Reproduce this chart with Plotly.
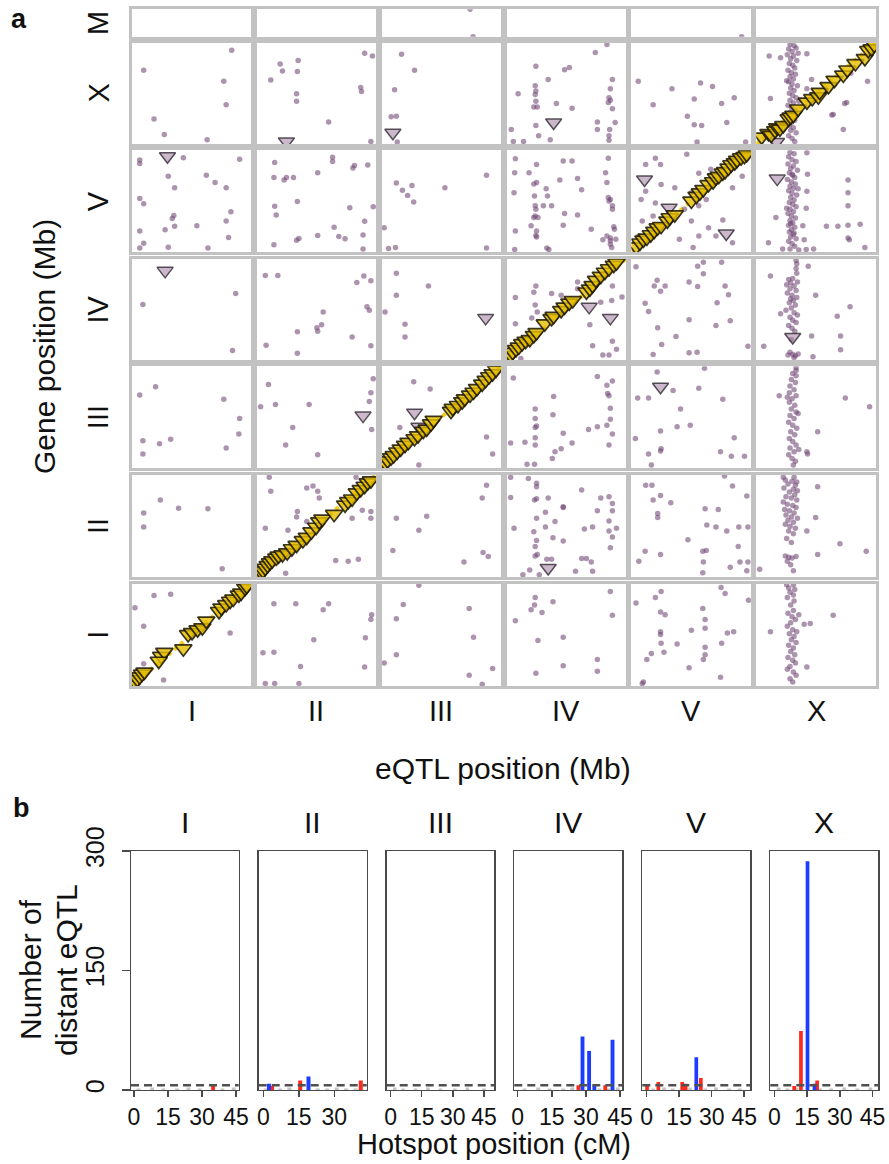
import plotly.graph_objects as go

W, H = 889, 1164
FONT = "Liberation Sans, Arial, Helvetica, sans-serif"

# ---------------- data ----------------
CHROMS = ["I", "II", "III", "IV", "V", "X"]            # eQTL chromosome (columns)
GENE_ROWS = ["M", "X", "V", "IV", "III", "II", "I"]    # gene chromosome (rows, top to bottom)
CHROM_MB = {"I": 15.07, "II": 15.28, "III": 13.78, "IV": 17.49, "V": 20.92, "X": 17.72, "M": 0.0137}

# distant eQTL (eQTL Mb, gene Mb) per panel: D_<gene chr>_<eQTL chr>
D_M_III = [(10.2, 0.0137), (10.55, 0.0)]
D_M_V = [(19.3, 0.0)]

D_X_I = [(12.6, 16.4), (1.5, 12.9), (11.6, 11.0), (11.9, 6.9), (2.8, 4.4), (4.1, 1.7), (9.5, 0.8)]
D_X_II = [(3.0, 14.0), (5.3, 14.6), (3.3, 12.8), (5.2, 12.7), (1.8, 11.2), (5.1, 8.8), (5.1, 7.5),
          (13.8, 15.9), (14.8, 15.4), (13.3, 9.9), (13.4, 9.2), (9.2, 3.9), (14.6, 0.5)]
D_X_III = [(2.3, 15.7), (3.8, 12.9), (1.5, 9.5), (1.1, 4.8), (1.7, 4.9), (1.8, 0.4)]
D_X_IV = [(14.7, 17.4), (13.0, 16.0), (4.3, 13.6), (8.5, 13.0), (9.2, 13.4), (6.1, 11.3), (4.2, 10.2),
          (4.3, 9.3), (4.2, 8.7), (1.7, 8.8), (15.5, 11.3), (15.2, 9.7), (15.0, 8.1), (15.2, 7.7),
          (14.9, 7.3), (15.5, 6.2), (4.3, 7.5), (4.0, 6.5), (4.5, 6.5), (7.3, 7.1), (9.6, 6.3),
          (0.7, 2.6), (4.3, 3.3), (13.3, 3.9), (15.9, 3.8), (15.1, 2.6), (15.0, 1.5), (15.0, 0.7),
          (1.0, 0.5), (2.5, 0.5), (4.7, 1.5), (6.4, 0.8), (13.3, 2.6)]
D_X_V = [(1.2, 11.0), (7.1, 9.7), (12.1, 10.7), (14.2, 10.1), (11.0, 7.9), (18.0, 8.1), (3.8, 6.9),
         (15.8, 7.1), (9.8, 4.9), (11.0, 3.4), (12.3, 3.3), (16.7, 3.8), (11.5, 0.4), (20.0, 0.4)]
D_X_X = [(5.0, 17.4), (5.6, 17.2), (4.8, 16.6), (5.3, 16.2), (5.9, 16.8), (4.6, 15.6), (5.5, 15.4),
         (5.1, 14.9), (6.0, 14.6), (4.9, 14.1), (5.4, 13.8), (5.7, 13.3), (4.7, 12.9), (5.2, 12.5),
         (5.8, 12.2), (5.0, 11.8), (5.5, 11.4), (4.8, 10.9), (5.3, 10.5), (6.1, 10.2), (5.1, 9.8),
         (5.6, 9.4), (4.9, 8.9), (5.4, 8.5), (5.9, 8.1), (5.0, 7.7), (5.5, 7.2), (4.7, 6.8),
         (5.2, 6.4), (5.8, 6.0), (5.0, 5.5), (5.4, 5.1), (4.8, 4.6), (5.7, 4.2), (5.2, 3.8),
         (4.9, 3.3), (5.5, 2.9), (5.1, 2.4), (5.9, 2.0), (4.8, 1.5), (5.3, 1.0), (5.7, 0.5),
         (6.2, 15.9), (4.5, 11.1), (6.3, 7.5),
         (7.5, 15.8), (2.1, 8.0), (8.2, 11.3), (11.2, 5.1), (13.1, 7.1), (12.9, 2.6), (7.5, 9.7),
         (3.6, 15.1), (1.9, 15.4), (11.4, 5.2), (13.4, 7.3), (14.0, 12.4), (16.5, 11.0)]

D_V_I = [(1.0, 18.9), (1.0, 18.2), (6.5, 19.4), (13.6, 19.1), (4.6, 15.6), (9.4, 15.8), (10.5, 14.3),
         (5.4, 13.2), (11.9, 13.2), (1.0, 11.0), (1.5, 9.9), (5.3, 7.5), (5.1, 6.9), (12.5, 8.3),
         (1.0, 4.3), (4.2, 4.6), (5.4, 5.3), (8.2, 5.4), (11.9, 6.4), (12.2, 3.0), (1.5, 1.8),
         (1.0, 0.8), (4.6, 1.0), (9.6, 0.8)]
D_V_II = [(2.3, 18.4), (9.7, 19.5), (9.7, 18.6), (12.5, 17.8), (12.3, 17.3), (14.2, 17.9), (7.8, 16.3),
          (2.2, 15.3), (3.8, 15.3), (3.5, 14.8), (4.7, 15.3), (5.2, 10.4), (2.3, 9.4), (2.5, 7.6),
          (11.9, 9.1), (14.9, 9.3), (9.9, 5.1), (13.8, 6.3), (5.4, 2.8), (5.1, 2.4), (7.8, 3.4),
          (10.5, 3.2), (11.3, 2.7), (13.6, 3.5), (2.2, 1.5), (13.6, 0.6)]
D_V_III = [(12.1, 15.8), (1.7, 14.2), (3.5, 13.7), (2.4, 12.7), (3.0, 11.6), (3.7, 10.3), (7.3, 13.2),
           (0.3, 5.0), (0.8, 0.7), (1.6, 0.9), (12.1, 0.8)]
D_V_IV = [(1.3, 19.2), (4.4, 18.0), (8.3, 18.7), (9.6, 18.7), (14.9, 19.3), (14.5, 16.3), (3.3, 16.3),
          (1.2, 16.3), (4.4, 14.3), (4.0, 14.0), (5.8, 13.0), (7.8, 14.8), (10.4, 15.1), (1.1, 12.2),
          (4.1, 11.5), (6.0, 11.5), (11.0, 12.8), (14.7, 14.3), (14.9, 11.2), (15.2, 10.8), (15.0, 10.5),
          (15.5, 9.5), (15.5, 8.8), (4.2, 9.5), (4.3, 8.8), (5.4, 9.5), (6.6, 9.5), (4.2, 7.4),
          (4.0, 7.1), (4.6, 7.1), (8.5, 7.9), (10.4, 7.6), (3.6, 5.4), (8.3, 5.5), (1.3, 4.3),
          (4.4, 4.3), (4.3, 3.4), (4.4, 3.1), (14.7, 3.3), (15.2, 2.9), (15.2, 2.3), (15.2, 1.6),
          (15.4, 0.9), (1.2, 0.5), (5.9, 0.8), (6.2, 0.5), (14.1, 2.5), (16.0, 2.6), (15.8, 4.7),
          (15.7, 5.2), (12.4, 4.7)]
D_V_V = [(2.5, 18.0), (4.2, 19.3), (5.1, 18.0), (9.7, 20.1), (1.7, 10.8), (2.5, 12.5), (5.2, 13.9),
         (4.2, 10.1), (1.9, 6.4), (3.8, 7.4), (11.8, 16.2), (13.9, 17.0), (10.5, 12.2), (17.7, 13.2),
         (10.5, 6.4), (13.5, 5.0), (16.0, 6.6), (14.8, 3.3), (10.8, 0.9), (8.4, 2.6), (17.7, 1.9),
         (11.8, 3.3), (1.3, 3.3), (11.8, 9.5), (13.1, 10.8), (15.2, 14.9), (17.9, 17.7), (19.4, 15.6),
         (7.6, 13.2), (9.3, 8.8)]
D_V_X = [(5.0, 20.5), (5.6, 20.2), (4.8, 19.6), (5.3, 19.0), (5.9, 18.6), (4.7, 18.1), (5.5, 17.7),
         (5.1, 17.2), (6.1, 16.8), (4.9, 16.3), (5.4, 15.8), (5.7, 15.3), (4.6, 14.9), (5.2, 14.4),
         (5.8, 14.0), (5.0, 13.5), (5.5, 13.1), (4.8, 12.6), (5.3, 12.1), (6.0, 11.7), (5.1, 11.2),
         (5.6, 10.7), (4.9, 10.2), (5.4, 9.8), (5.9, 9.3), (5.0, 8.8), (5.5, 8.3), (4.7, 7.9),
         (5.2, 7.4), (5.8, 7.0), (5.0, 6.5), (5.4, 6.0), (4.8, 5.5), (5.7, 5.1), (5.2, 4.6),
         (4.9, 4.1), (5.5, 3.6), (5.1, 3.1), (5.9, 2.7), (4.8, 2.2), (5.3, 1.7), (5.7, 1.2),
         (5.0, 0.6), (6.3, 0.4), (4.5, 9.0), (6.2, 13.0), (5.3, 16.0), (5.1, 5.8), (5.6, 3.9),
         (13.6, 14.8), (13.6, 12.2), (13.6, 9.5), (10.4, 5.3), (12.1, 5.3), (13.6, 5.5), (15.4, 5.7),
         (13.6, 2.9), (13.8, 2.5), (16.1, 0.9), (1.8, 1.9), (2.9, 7.1), (7.5, 20.4), (7.6, 16.0),
         (7.5, 12.5), (7.4, 9.0), (6.9, 5.4), (7.1, 2.5), (3.9, 0.6), (7.4, 0.5), (8.5, 0.6)]

D_IV_I = [(13.1, 11.5), (1.4, 9.6), (12.7, 1.7)]
D_IV_II = [(1.1, 14.6), (2.7, 14.6), (13.7, 14.5), (12.8, 13.4), (14.6, 13.7), (14.1, 9.2), (14.4, 8.6),
           (8.5, 8.3), (8.3, 6.1), (7.7, 5.6), (7.8, 5.0), (5.2, 4.9), (12.2, 4.0), (1.2, 2.6),
           (5.2, 1.2), (14.6, 2.5)]
D_IV_III = [(1.7, 15.0), (5.4, 12.8), (1.7, 11.2), (0.4, 8.3), (2.7, 6.2), (2.7, 4.0)]
D_IV_IV = [(4.3, 12.8), (1.3, 10.8), (4.0, 11.7), (6.6, 11.5), (8.0, 11.2), (4.2, 9.5), (4.5, 8.3),
           (3.7, 7.3), (1.3, 6.3), (15.5, 12.8), (15.4, 10.3), (16.9, 10.9), (13.8, 10.0), (12.2, 6.1),
           (10.4, 12.3), (15.5, 3.3), (12.6, 2.5), (16.1, 1.9), (14.1, 0.9), (15.0, 0.9), (2.1, 0.3),
           (10.4, 13.5)]
D_IV_V = [(0.8, 16.1), (11.6, 16.2), (12.6, 16.9), (15.8, 16.9), (12.6, 14.9), (4.5, 13.8), (4.0, 12.8),
          (5.9, 12.8), (5.1, 11.9), (10.1, 13.5), (11.6, 12.7), (16.4, 12.8), (17.0, 11.3), (2.4, 9.8),
          (3.0, 8.4), (15.0, 9.9), (10.1, 7.0), (14.8, 6.0), (17.3, 6.8), (4.6, 5.6), (7.8, 4.1),
          (5.3, 2.7), (3.8, 1.0), (10.1, 1.3), (11.5, 1.4), (20.4, 2.4)]
D_IV_X = [(5.9, 17.2), (6.0, 16.6), (5.9, 15.8), (6.0, 15.0), (5.4, 14.1), (4.8, 13.9), (5.1, 13.3),
          (6.1, 13.5), (5.6, 12.8), (5.0, 12.3), (5.9, 12.0), (4.6, 11.6), (5.3, 11.2), (6.0, 10.8),
          (5.5, 10.3), (4.9, 9.9), (5.8, 9.5), (5.2, 9.0), (4.4, 8.6), (5.6, 8.2), (6.1, 7.8),
          (5.0, 7.4), (5.4, 6.9), (5.9, 6.5), (4.8, 6.0), (5.3, 5.5), (5.7, 5.0), (5.2, 3.6),
          (5.0, 1.4), (5.4, 1.0), (5.8, 0.8), (6.2, 1.1), (4.7, 0.9), (5.6, 0.5), (5.1, 10.6),
          (4.5, 13.0),
          (2.1, 14.5), (8.8, 11.2), (12.0, 7.6), (13.9, 9.2), (8.2, 4.2), (12.5, 4.2), (12.5, 1.8),
          (8.4, 0.6), (1.1, 2.4), (3.6, 8.0), (7.7, 16.2)]

D_III_I = [(1.0, 9.9), (3.0, 11.0), (11.6, 9.3), (13.6, 6.7), (13.5, 4.6), (1.4, 3.7), (3.5, 3.3),
           (4.9, 3.9), (11.9, 2.7), (1.4, 1.9)]
D_III_II = [(14.9, 12.1), (1.5, 11.3), (14.6, 10.2), (14.4, 9.0), (0.5, 8.3), (2.4, 8.6), (6.7, 8.6),
            (14.7, 5.2), (4.6, 5.5), (3.7, 3.1), (7.8, 1.8)]
D_III_III = [(3.7, 11.7), (5.6, 10.7), (2.1, 5.5), (12.1, 4.2), (12.8, 1.9), (4.3, 0.4)]
D_III_IV = [(1.0, 12.2), (13.3, 12.4), (15.5, 11.8), (14.7, 11.2), (14.8, 10.1), (15.0, 9.8), (6.9, 9.7),
            (15.2, 8.1), (4.2, 8.0), (6.8, 7.2), (4.2, 6.7), (15.2, 6.6), (4.4, 5.7), (4.2, 5.5),
            (13.3, 5.6), (14.7, 5.8), (12.0, 5.2), (8.3, 4.7), (15.5, 4.6), (4.2, 4.1), (0.6, 3.4),
            (2.7, 3.5), (4.2, 3.1), (9.6, 3.4), (8.0, 2.6), (7.1, 2.2), (6.7, 1.3), (3.0, 0.5),
            (4.1, 0.5), (15.0, 3.1)]
D_III_V = [(4.5, 13.0), (12.8, 13.5), (1.1, 9.5), (3.0, 9.5), (7.3, 10.5), (11.8, 10.8), (16.0, 9.3),
           (8.6, 8.0), (5.1, 5.0), (8.0, 5.6), (10.3, 5.8), (0.7, 4.0), (18.0, 4.1), (3.0, 1.9),
           (5.2, 2.6), (15.6, 2.2), (17.5, 1.6), (19.8, 1.6), (3.5, 0.4), (5.1, 2.3)]
D_III_X = [(5.9, 13.6), (5.9, 13.2), (5.4, 12.8), (5.9, 12.5), (5.2, 12.0), (5.8, 11.6), (5.0, 11.1),
           (5.6, 10.6), (4.9, 10.2), (5.9, 9.8), (5.3, 9.4), (4.9, 8.9), (5.7, 8.5), (5.2, 8.0),
           (5.9, 7.6), (5.0, 7.1), (5.6, 6.7), (4.8, 6.2), (5.4, 5.8), (6.0, 5.4), (5.1, 4.9),
           (5.7, 4.5), (4.9, 4.0), (5.4, 3.6), (5.9, 3.1), (5.0, 2.7), (5.6, 2.2), (4.8, 1.8),
           (5.3, 1.3), (5.8, 0.9), (5.5, 0.4), (4.6, 9.6), (6.2, 7.4), (6.3, 2.5),
           (3.4, 9.8), (13.2, 9.5), (16.8, 8.3), (9.1, 4.9), (7.5, 2.2), (7.6, 1.9)]

D_II_I = [(3.6, 11.5), (1.5, 9.6), (5.9, 10.3), (9.6, 10.2), (1.5, 7.5), (11.4, 1.3)]
D_II_II = [(1.6, 14.9), (1.8, 12.8), (6.4, 13.3), (7.2, 13.6), (7.8, 12.8), (8.0, 11.8), (12.7, 14.9),
           (5.2, 9.8), (5.1, 9.0), (1.1, 7.3), (4.0, 7.0), (6.4, 8.3), (10.1, 2.5), (11.7, 2.4),
           (13.0, 2.7), (3.7, 0.6), (13.5, 10.0), (14.6, 9.8), (14.6, 8.8), (12.2, 8.8)]
D_II_III = [(12.1, 13.7), (11.6, 11.8), (1.7, 8.8), (5.2, 9.1), (4.3, 7.0), (1.3, 4.0), (11.7, 3.7),
            (12.3, 3.1), (9.5, 2.3)]
D_II_IV = [(0.6, 14.9), (3.2, 14.7), (4.4, 14.0), (4.4, 13.5), (0.6, 11.9), (4.1, 11.5), (4.4, 11.7),
           (6.1, 11.8), (11.0, 13.0), (13.8, 11.8), (15.0, 12.0), (15.5, 11.0), (8.3, 10.5), (8.3, 10.4),
           (13.3, 9.9), (15.5, 9.9), (5.7, 9.7), (4.4, 8.8), (7.1, 8.3), (15.0, 8.4), (1.1, 7.3),
           (4.0, 6.8), (5.7, 7.5), (11.4, 7.2), (12.6, 7.5), (15.0, 6.9), (16.1, 7.3), (15.5, 6.0),
           (6.8, 5.9), (8.3, 5.4), (4.4, 5.5), (4.2, 4.6), (15.2, 4.4), (4.2, 3.2), (4.5, 3.4),
           (5.9, 2.7), (6.6, 2.7), (11.0, 2.8), (11.7, 2.8), (12.4, 2.3), (3.4, 1.1), (4.8, 0.4),
           (2.4, 0.4), (10.1, 0.9), (12.6, 0.9)]
D_II_V = [(2.5, 13.7), (3.6, 13.7), (16.3, 15.1), (17.7, 13.6), (5.1, 12.2), (3.8, 11.5), (6.9, 11.1),
          (20.2, 12.1), (4.6, 9.5), (4.6, 8.9), (12.9, 10.2), (15.2, 10.1), (13.2, 7.8), (14.8, 7.5),
          (16.7, 6.9), (18.8, 7.5), (20.4, 7.5), (9.9, 5.6), (18.7, 4.6), (2.4, 3.9), (5.1, 3.4),
          (12.5, 3.9), (13.1, 4.0), (1.3, 2.4), (12.6, 2.3), (17.3, 1.5), (19.0, 2.3), (20.4, 2.3),
          (12.5, 0.7), (20.2, 1.0)]
D_II_X = [(4.0, 14.9), (5.6, 14.9), (4.3, 14.5), (5.3, 14.3), (6.0, 14.2), (4.7, 13.9), (5.8, 13.7),
          (4.1, 13.3), (5.5, 13.1), (6.1, 12.9), (4.9, 12.7), (5.7, 12.3), (4.4, 12.0), (5.2, 11.8),
          (6.0, 11.5), (4.0, 11.2), (4.6, 10.9), (5.4, 10.7), (5.9, 10.4), (4.2, 10.1), (4.9, 9.9),
          (5.6, 9.6), (4.4, 9.3), (5.2, 9.0), (6.1, 8.8), (4.7, 8.5), (5.5, 8.2), (4.3, 7.9),
          (5.0, 7.6), (5.8, 7.3), (4.8, 6.9), (5.5, 6.5), (4.5, 5.8), (5.2, 5.2), (4.3, 3.2),
          (4.8, 3.0), (5.3, 2.9), (5.9, 3.1), (4.6, 2.4), (5.1, 1.9), (5.5, 1.0),
          (9.1, 13.5), (8.8, 8.9), (7.5, 6.9), (12.4, 5.0), (16.3, 3.9), (9.1, 3.4), (0.5, 1.2)]

D_I_I = [(0.4, 11.5), (2.8, 13.3), (4.9, 13.5), (1.5, 8.8), (12.4, 7.8), (1.5, 3.3), (4.0, 0.9)]
D_I_II = [(2.2, 12.1), (5.0, 12.1), (9.2, 12.1), (8.5, 11.2), (14.7, 10.5), (14.6, 9.8), (7.3, 6.8),
          (13.9, 7.1), (0.8, 4.9), (2.2, 5.0), (5.6, 2.9), (13.8, 2.8), (1.1, 0.4), (2.3, 0.4), (5.4, 0.4)]
D_I_III = [(4.3, 14.8), (2.5, 12.0), (10.1, 11.4), (1.7, 9.9), (10.6, 7.2), (1.7, 4.6), (0.3, 3.4),
           (10.1, 1.6), (12.8, 2.6), (11.6, 0.3)]
D_I_IV = [(4.2, 13.0), (4.1, 11.9), (3.6, 11.2), (5.2, 10.8), (6.8, 12.4), (15.2, 13.9), (15.5, 10.4),
          (1.3, 9.6), (4.6, 6.7), (8.3, 7.2), (13.3, 3.9), (13.3, 2.2), (8.3, 3.0), (4.3, 1.9)]
D_I_V = [(0.8, 12.2), (4.2, 13.0), (5.2, 13.9), (15.7, 14.5), (16.4, 13.6), (20.5, 12.6), (12.5, 11.4),
         (5.1, 10.9), (5.9, 10.5), (12.9, 9.8), (12.9, 8.5), (16.8, 7.8), (17.9, 8.0), (5.1, 8.0),
         (5.1, 7.6), (10.5, 8.2), (5.2, 6.3), (8.0, 6.2), (12.9, 5.7), (15.8, 6.3), (3.5, 4.8),
         (5.7, 5.0), (12.9, 4.6), (2.7, 3.9), (12.6, 3.9), (10.1, 2.7), (15.6, 1.3), (2.1, 0.6), (1.9, 0.4)]
D_I_X = [(4.5, 14.9), (5.5, 14.9), (4.8, 14.4), (5.7, 14.2), (5.0, 13.8), (5.5, 13.4), (4.6, 13.0),
         (5.6, 12.5), (5.1, 11.9), (5.5, 11.1), (4.7, 10.7), (5.3, 10.2), (5.8, 9.8), (5.1, 9.3),
         (4.6, 8.8), (5.4, 8.3), (6.0, 8.0), (4.9, 7.7), (5.6, 7.3), (5.2, 6.8), (5.9, 6.4),
         (4.8, 6.0), (5.5, 5.6), (5.1, 5.1), (5.7, 4.6), (4.7, 4.2), (5.4, 3.8), (5.8, 3.4),
         (5.0, 2.9), (4.6, 2.5), (5.5, 2.1), (5.9, 1.6), (5.0, 1.1), (5.4, 0.6),
         (11.4, 10.4), (2.1, 8.0), (7.1, 9.1), (8.0, 9.2), (7.5, 2.8), (6.3, 10.5)]

# local eQTL triangles on the diagonal: (eQTL Mb, gene Mb)
T_I = [(0.4, 0.6), (0.7, 1.0), (1.0, 1.4), (1.3, 1.8), (1.6, 2.1), (3.7, 4.4), (4.1, 5.0), (3.4, 3.7),
       (6.5, 5.5), (7.1, 7.6), (7.6, 7.9), (8.3, 8.3), (8.9, 8.6), (9.4, 9.6), (11.0, 11.0), (11.3, 11.5),
       (11.9, 12.0), (12.4, 12.5), (12.8, 12.8), (13.5, 13.4), (13.8, 13.7), (14.3, 14.4), (14.5, 14.7)]
T_II = [(0.6, 0.7), (0.8, 1.0), (1.1, 1.4), (1.4, 1.8), (1.7, 2.2), (2.0, 2.5), (2.5, 2.9), (2.8, 3.2),
        (3.3, 3.4), (3.9, 3.7), (4.5, 4.3), (5.1, 4.8), (5.9, 5.5), (6.4, 6.0), (7.0, 6.8), (7.6, 7.5),
        (8.0, 8.3), (8.4, 8.7), (9.9, 9.4), (11.3, 10.8), (11.7, 11.3), (12.2, 11.7), (12.8, 12.6),
        (13.3, 13.1), (13.8, 13.6), (14.2, 14.1), (14.6, 14.4)]
T_III = [(0.4, 0.7), (0.7, 1.0), (1.1, 1.4), (1.4, 1.7), (1.8, 2.2), (2.2, 2.6), (2.7, 3.1), (3.1, 3.5),
         (3.8, 4.0), (4.2, 4.4), (4.8, 5.0), (5.2, 5.3), (5.7, 6.0), (6.0, 6.5), (8.0, 7.7), (8.2, 8.1),
         (8.8, 8.5), (9.3, 9.0), (9.6, 9.4), (10.2, 9.9), (10.6, 10.3), (11.0, 10.8), (11.6, 11.4),
         (12.0, 11.9), (12.4, 12.4), (12.8, 12.8), (13.2, 13.3)]
T_IV = [(0.6, 0.9), (0.9, 1.4), (1.4, 1.9), (1.8, 2.3), (2.3, 2.9), (2.8, 3.3), (3.4, 3.6), (4.0, 4.3),
        (4.4, 4.8), (5.6, 6.3), (6.6, 7.2), (6.9, 7.6), (8.0, 8.6), (8.5, 9.2), (9.2, 9.9), (9.7, 10.3),
        (11.7, 11.8), (12.2, 12.3), (12.6, 12.9), (13.1, 13.8), (13.8, 14.5), (14.4, 15.2), (15.0, 15.8),
        (15.7, 16.4), (16.1, 16.8)]
T_V = [(0.84, 1.1), (1.5, 1.9), (2.1, 2.5), (2.7, 2.9), (3.4, 3.6), (4.0, 4.3), (4.6, 5.0), (5.2, 5.3),
       (6.3, 6.4), (6.7, 7.1), (7.6, 7.7), (10.5, 10.5), (11.4, 11.5), (12.0, 12.2), (12.6, 12.9),
       (13.5, 13.9), (14.3, 14.5), (14.8, 15.3), (15.3, 15.6), (16.0, 16.3), (16.4, 16.6), (17.0, 17.3),
       (17.5, 18.0), (18.1, 18.4), (18.5, 18.9), (19.2, 19.4), (19.8, 19.7), (20.2, 20.1)]
T_X = [(0.8, 1.3), (1.8, 1.9), (2.2, 1.6), (2.8, 2.4), (3.1, 2.9), (3.5, 2.7), (4.0, 3.3), (4.8, 4.5),
       (5.1, 4.8), (5.5, 5.1), (6.2, 6.2), (7.5, 7.4), (8.3, 8.0), (9.2, 8.3), (9.4, 9.1), (10.7, 10.1),
       (11.6, 11.2), (12.9, 12.1), (13.5, 13.0), (14.7, 14.1), (16.1, 15.0), (16.6, 16.4), (17.1, 16.7),
       (17.5, 17.3)]

# distant eQTL also shown as triangles: (gene chr, eQTL chr, eQTL Mb, gene Mb)
GRAY_TRIANGLES = [("V", "I", 4.5, 19.7), ("X", "II", 3.8, 0.5), ("X", "III", 1.3, 2.0), ("X", "IV", 6.9, 3.8),
                  ("X", "X", 3.0, 0.4), ("V", "V", 2.3, 14.9), ("V", "V", 6.6, 9.1), ("V", "V", 16.6, 3.8),
                  ("V", "X", 3.1, 15.1), ("IV", "I", 4.2, 15.4), ("IV", "III", 12.0, 7.3),
                  ("IV", "IV", 12.1, 9.2), ("IV", "IV", 15.2, 7.3), ("IV", "X", 5.4, 4.0),
                  ("III", "II", 13.6, 7.1), ("III", "III", 3.8, 7.5), ("III", "III", 4.3, 5.6),
                  ("III", "V", 5.1, 11.0), ("II", "IV", 6.1, 1.4)]

# panel b: hotspots (chromosome, cM, number of distant eQTL)
RED_CHR = ["I", "II", "II", "II", "IV", "IV", "V", "V", "V", "V", "V", "X", "X", "X"]
RED_CM = [34.9, 3.7, 15.6, 41.2, 26.7, 38.5, 0.2, 5.4, 16.4, 18.0, 25.0, 9.1, 12.2, 19.6]
RED_N = [7, 5, 12, 12, 6, 6, 5, 10, 10, 8, 15, 5, 74, 12]
BLUE_CHR = ["II", "II", "IV", "IV", "IV", "IV", "V", "X", "X"]
BLUE_CM = [2.4, 19.1, 28.5, 31.4, 33.7, 41.7, 22.9, 15.2, 18.4]
BLUE_N = [8, 17, 67, 49, 5, 63, 41, 287, 8]
GRAY_CHR = ["I"] * 8 + ["II"] * 8 + ["III"] * 8 + ["IV"] * 8 + ["V"] * 8 + ["X"] * 8
GRAY_CM = [2, 8, 13, 19, 24, 29, 39, 44,
           1, 7, 11, 23, 27, 31, 35, 39,
           2, 6, 12, 18, 24, 31, 37, 45,
           3, 9, 14, 20, 24, 36, 40, 44,
           3, 8, 12, 20, 27, 32, 38, 43,
           2, 6, 10, 21, 26, 32, 38, 44]
GRAY_N = [2, 3, 2, 2, 3, 2, 2, 3,
          2, 2, 3, 2, 2, 3, 2, 2,
          3, 2, 2, 3, 2, 2, 3, 2,
          2, 3, 2, 2, 3, 2, 2, 3,
          2, 3, 2, 3, 2, 3, 2, 2,
          3, 2, 3, 2, 2, 3, 2, 3]
THRESHOLD = 6
B_TICKS = {"I": [0, 15, 30, 45], "II": [0, 15, 30], "III": [0, 15, 30, 45],
           "IV": [0, 15, 30, 45], "V": [0, 15, 30, 45], "X": [0, 15, 30, 45]}
B_YTICKS = [0, 150, 300]

# ---------------- registry ----------------
DOTS = {("M", "III"): D_M_III, ("M", "V"): D_M_V,
        ("X", "I"): D_X_I, ("X", "II"): D_X_II, ("X", "III"): D_X_III, ("X", "IV"): D_X_IV,
        ("X", "V"): D_X_V, ("X", "X"): D_X_X,
        ("V", "I"): D_V_I, ("V", "II"): D_V_II, ("V", "III"): D_V_III, ("V", "IV"): D_V_IV,
        ("V", "V"): D_V_V, ("V", "X"): D_V_X,
        ("IV", "I"): D_IV_I, ("IV", "II"): D_IV_II, ("IV", "III"): D_IV_III, ("IV", "IV"): D_IV_IV,
        ("IV", "V"): D_IV_V, ("IV", "X"): D_IV_X,
        ("III", "I"): D_III_I, ("III", "II"): D_III_II, ("III", "III"): D_III_III, ("III", "IV"): D_III_IV,
        ("III", "V"): D_III_V, ("III", "X"): D_III_X,
        ("II", "I"): D_II_I, ("II", "II"): D_II_II, ("II", "III"): D_II_III, ("II", "IV"): D_II_IV,
        ("II", "V"): D_II_V, ("II", "X"): D_II_X,
        ("I", "I"): D_I_I, ("I", "II"): D_I_II, ("I", "III"): D_I_III, ("I", "IV"): D_I_IV,
        ("I", "V"): D_I_V, ("I", "X"): D_I_X}
LOCAL = {"I": T_I, "II": T_II, "III": T_III, "IV": T_IV, "V": T_V, "X": T_X}

# ---------------- styling / geometry ----------------
DOT_COLOR = "rgba(112,70,118,0.58)"
GOLD_FILL = "rgba(230,190,0,0.8)"
GOLD_LINE = "rgba(25,20,0,0.85)"
GRAY_FILL = "rgba(160,128,160,0.55)"
GRAY_LINE = "rgba(60,50,62,0.85)"
RED = "#FF2A1C"
BLUE = "#1C3CFF"
BORDER_A = "#c2c2c2"
BORDER_B = "#4a4a4a"

A_LEFT, A_PITCH, A_W = 131.8, 124.9, 119.5
ROW_TOP = [9.3, 42.7, 150.3, 258.7, 366.3, 474.7, 583.5]
ROW_BOT = [36.7, 144.3, 252.0, 360.3, 468.0, 577.4, 686.2]
B_LEFT = [131.0, 258.7, 386.7, 514.3, 642.3, 770.3]
B_RIGHT = [238.7, 366.7, 494.3, 622.3, 750.3, 878.3]
B_TOP, B_BOT = 851.0, 1090.0
B_XRANGE = {"I": [-1.32, 46.2], "II": [-1.94, 43.7], "III": [-1.9, 50.0],
            "IV": [-1.5, 46.0], "V": [-2.0, 47.8], "X": [-1.83, 47.6]}

fig = go.Figure()
layout = {}
shapes = []
annotations = []


def sfx(n):
    return "" if n == 1 else str(n)


A_AX = dict(showticklabels=False, ticks="", showgrid=False, zeroline=False, automargin=False,
            showline=True, linecolor=BORDER_A, linewidth=3, mirror=True, fixedrange=True)

for r, g in enumerate(GENE_ROWS):
    for c, e in enumerate(CHROMS):
        n = r * 6 + c + 1
        s = sfx(n)
        x0 = A_LEFT + c * A_PITCH
        x1 = x0 + A_W
        layout["xaxis" + s] = dict(domain=[x0 / W, x1 / W], range=[0, CHROM_MB[e]], anchor="y" + s, **A_AX)
        layout["yaxis" + s] = dict(domain=[1 - ROW_BOT[r] / H, 1 - ROW_TOP[r] / H],
                                   range=[0, CHROM_MB[g]], anchor="x" + s, **A_AX)
        xa, ya = "x" + s, "y" + s
        # empty trace so every facet panel is drawn
        fig.add_trace(go.Scatter(x=[], y=[], mode="markers", xaxis=xa, yaxis=ya, hoverinfo="skip"))
        if g == e:
            fig.add_trace(go.Scatter(x=[0, CHROM_MB[e]], y=[0, CHROM_MB[g]], mode="lines",
                                     line=dict(color="rgba(240,200,0,0.9)", width=4, dash="dot"),
                                     xaxis=xa, yaxis=ya, hoverinfo="skip"))
        pts = DOTS.get((g, e), [])
        if pts:
            fig.add_trace(go.Scatter(x=[p[0] for p in pts], y=[p[1] for p in pts], mode="markers",
                                     marker=dict(size=5.5, color=DOT_COLOR, line=dict(width=0)),
                                     xaxis=xa, yaxis=ya))
        gt = [t for t in GRAY_TRIANGLES if t[0] == g and t[1] == e]
        if gt:
            fig.add_trace(go.Scatter(x=[t[2] for t in gt], y=[t[3] for t in gt], mode="markers",
                                     marker=dict(symbol="triangle-down", size=14, color=GRAY_FILL,
                                                 line=dict(color=GRAY_LINE, width=1.5)),
                                     xaxis=xa, yaxis=ya))
        if g == e and g in LOCAL:
            lt = LOCAL[g]
            fig.add_trace(go.Scatter(x=[p[0] for p in lt], y=[p[1] for p in lt], mode="markers",
                                     marker=dict(symbol="triangle-down", size=15, color=GOLD_FILL,
                                                 line=dict(color=GOLD_LINE, width=1.7)),
                                     xaxis=xa, yaxis=ya))

# panel b
for c, e in enumerate(CHROMS):
    n = 43 + c
    s = sfx(n)
    xa, ya = "x" + s, "y" + s
    layout["xaxis" + s] = dict(domain=[B_LEFT[c] / W, B_RIGHT[c] / W], range=B_XRANGE[e], anchor=ya,
                               tickvals=B_TICKS[e], ticktext=[str(v) for v in B_TICKS[e]],
                               ticks="outside", ticklen=6, tickwidth=1.5, tickcolor=BORDER_B,
                               tickangle=0, tickfont=dict(size=23, color="#111"), automargin=False,
                               showgrid=False, zeroline=False, showline=True, linecolor=BORDER_B,
                               linewidth=1.3, mirror=True, fixedrange=True)
    ydict = dict(domain=[1 - B_BOT / H, 1 - B_TOP / H], range=[0, 300], anchor=xa, automargin=False,
                 showgrid=False, zeroline=False, showline=True, linecolor=BORDER_B,
                 linewidth=1.3, mirror=True, fixedrange=True)
    if c == 0:
        ydict.update(tickvals=B_YTICKS, ticktext=[str(v) for v in B_YTICKS], ticks="outside",
                     ticklen=8, tickwidth=1.5, tickcolor=BORDER_B, tickangle=-90,
                     ticklabelstandoff=8, tickfont=dict(size=25, color="#111"))
    else:
        ydict.update(showticklabels=False, ticks="")
    layout["yaxis" + s] = ydict

    gx = [GRAY_CM[i] for i in range(len(GRAY_CM)) if GRAY_CHR[i] == e]
    gy = [GRAY_N[i] for i in range(len(GRAY_CM)) if GRAY_CHR[i] == e]
    fig.add_trace(go.Bar(x=gx, y=gy, width=1.7, marker=dict(color="#c4c4c4", line=dict(width=0)),
                         xaxis=xa, yaxis=ya))
    shapes.append(dict(type="line", xref=xa + " domain", x0=0, x1=1, yref=ya, y0=THRESHOLD, y1=THRESHOLD,
                       line=dict(color="#505050", width=2.5, dash="8px,5px"), layer="above"))
    rx = [RED_CM[i] for i in range(len(RED_CM)) if RED_CHR[i] == e]
    ry = [RED_N[i] for i in range(len(RED_CM)) if RED_CHR[i] == e]
    if rx:
        fig.add_trace(go.Bar(x=rx, y=ry, width=1.7, marker=dict(color=RED, line=dict(width=0)),
                             xaxis=xa, yaxis=ya))
    bx = [BLUE_CM[i] for i in range(len(BLUE_CM)) if BLUE_CHR[i] == e]
    by = [BLUE_N[i] for i in range(len(BLUE_CM)) if BLUE_CHR[i] == e]
    if bx:
        fig.add_trace(go.Bar(x=bx, y=by, width=1.7, marker=dict(color=BLUE, line=dict(width=0)),
                             xaxis=xa, yaxis=ya))


def ann(text, px, py, size=28, angle=0, bold=False):
    annotations.append(dict(text=("<b>%s</b>" % text) if bold else text, x=px / W, y=1 - py / H,
                            xref="paper", yref="paper", showarrow=False, textangle=angle,
                            xanchor="center", yanchor="middle",
                            font=dict(size=size, color="#111", family=FONT)))


ann("a", 19, 19, size=27, bold=True)
ann("b", 21, 808, size=27, bold=True)
for r, g in enumerate(GENE_ROWS):
    ann(g, 98, (ROW_TOP[r] + ROW_BOT[r]) / 2, size=29, angle=-90)
for c, e in enumerate(CHROMS):
    ann(e, A_LEFT + c * A_PITCH + A_W / 2, 711, size=29)
    ann(e, (B_LEFT[c] + B_RIGHT[c]) / 2, 822, size=30)
ann("eQTL position (Mb)", 503, 768, size=30)
ann("Gene position (Mb)", 44, 347, size=30, angle=-90)
ann("Number of", 30, 970, size=30, angle=-90)
ann("distant eQTL", 66, 970, size=30, angle=-90)
ann("Hotspot position (cM)", 494, 1144, size=29)

fig.update_layout(width=W, height=H, autosize=False, margin=dict(l=0, r=0, t=0, b=0, autoexpand=False),
                  paper_bgcolor="white", plot_bgcolor="white", showlegend=False,
                  barmode="overlay", font=dict(family=FONT, color="#111"),
                  shapes=shapes, annotations=annotations, **layout)

fig.write_html("out.html", config={"displayModeBar": False, "staticPlot": True},
               post_script="document.body.style.margin='0px';")
